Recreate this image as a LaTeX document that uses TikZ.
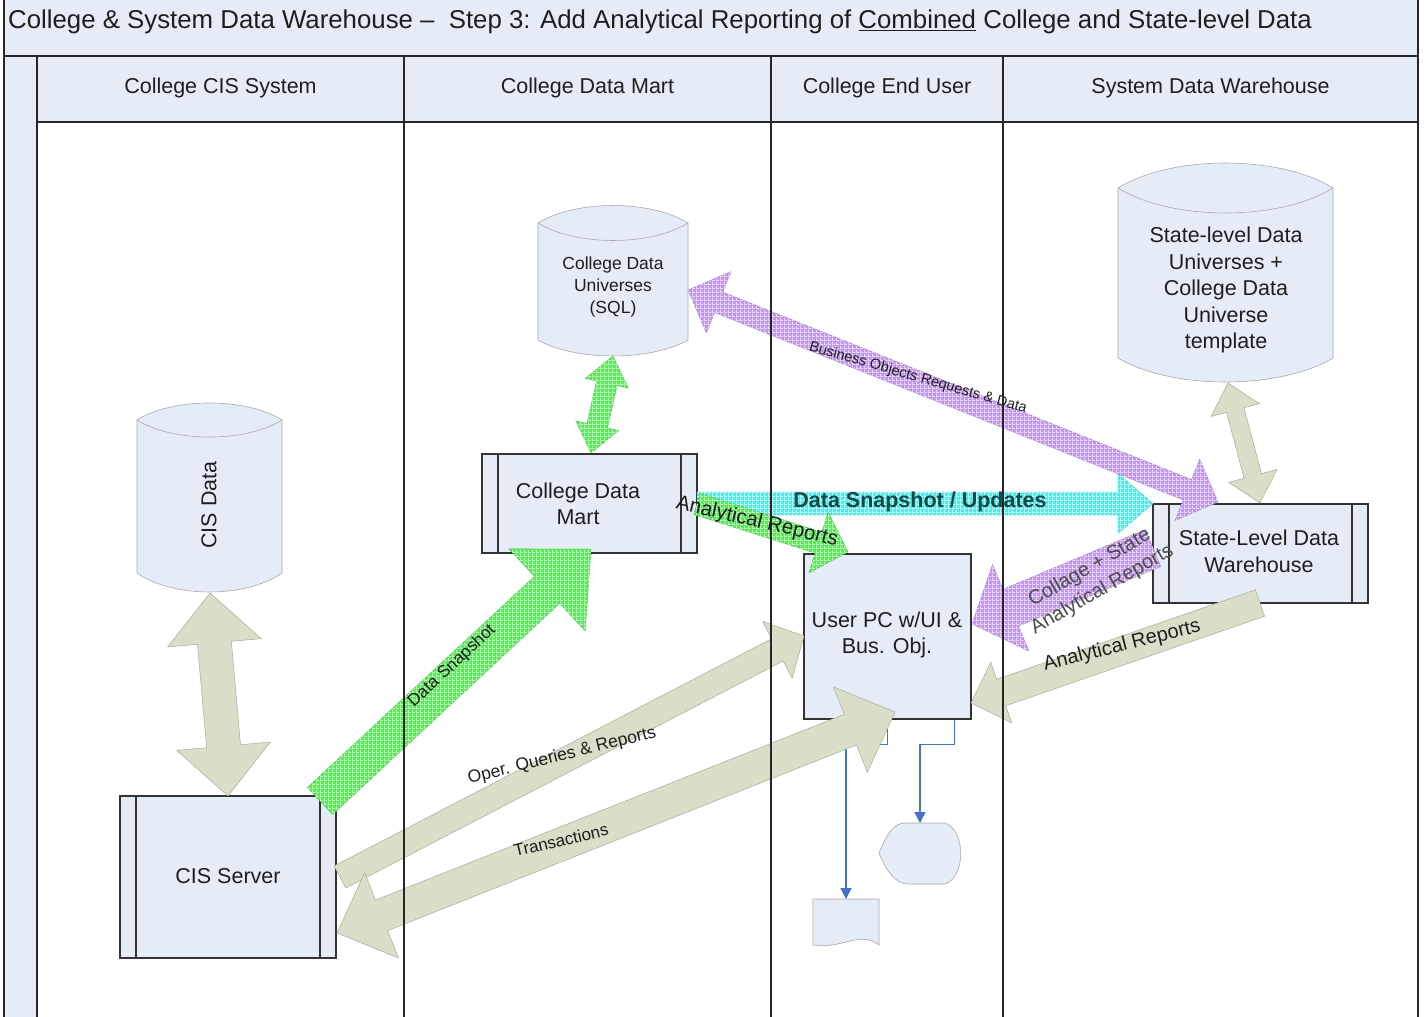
\documentclass[tikz,border=0pt]{standalone}
\usepackage{fontspec}
\setmainfont{Liberation Sans}
\usetikzlibrary{calc,arrows.meta,patterns}

\definecolor{paleblue}{HTML}{E6ECF7}
\definecolor{khaki}{HTML}{DADDC8}
\definecolor{khakiline}{HTML}{A9AC98}
\definecolor{gbase}{HTML}{55EE55}
\definecolor{gline}{HTML}{B8F8B8}
\definecolor{cbase}{HTML}{44F0F0}
\definecolor{cline}{HTML}{C0FAFA}
\definecolor{pbase}{HTML}{C597F2}
\definecolor{pline}{HTML}{E8D6FB}
\definecolor{ink}{HTML}{1E1E1E}
\definecolor{snaptxt}{HTML}{0F4A4A}
\definecolor{connblue}{HTML}{4472C4}
\definecolor{shapeline}{HTML}{A8A8A8}

\pgfdeclarepatternformonly{cellgrid}{\pgfqpoint{0pt}{0pt}}{\pgfqpoint{4pt}{4pt}}{\pgfqpoint{4pt}{4pt}}{%
  \pgfsetlinewidth{0.9pt}%
  \pgfpathmoveto{\pgfqpoint{0pt}{0.5pt}}\pgfpathlineto{\pgfqpoint{4pt}{0.5pt}}%
  \pgfpathmoveto{\pgfqpoint{0.5pt}{0pt}}\pgfpathlineto{\pgfqpoint{0.5pt}{4pt}}%
  \pgfusepath{stroke}}

% single-headed block arrow: style, tail, tip, half shaft, half head, head length
\newcommand\onearrow[6]{%
  \coordinate (oa-n) at ($(#3)!#6pt!(#2)$);
  \path[#1] ($(#2)!#4pt!90:(#3)$) -- ($(oa-n)!#4pt!90:(#3)$) -- ($(oa-n)!#5pt!90:(#3)$) -- (#3)
    -- ($(oa-n)!#5pt!-90:(#3)$) -- ($(oa-n)!#4pt!-90:(#3)$) -- ($(#2)!#4pt!-90:(#3)$) -- cycle;}
% double-headed block arrow
\newcommand\twoarrow[6]{%
  \coordinate (ta-m) at ($(#2)!#6pt!(#3)$);
  \coordinate (ta-n) at ($(#3)!#6pt!(#2)$);
  \path[#1] (#2) -- ($(ta-m)!#5pt!90:(#3)$) -- ($(ta-m)!#4pt!90:(#3)$) -- ($(ta-n)!#4pt!90:(#3)$)
    -- ($(ta-n)!#5pt!90:(#3)$) -- (#3) -- ($(ta-n)!#5pt!-90:(#3)$) -- ($(ta-n)!#4pt!-90:(#3)$)
    -- ($(ta-m)!#4pt!-90:(#3)$) -- ($(ta-m)!#5pt!-90:(#3)$) -- cycle;}

\tikzset{
  lane/.style={draw=black!85, line width=1.3pt},
  boxtext/.style={font=\fontsize{21.5}{26.5}\selectfont, text=ink, align=center},
  procbox/.style={rectangle, draw=black!80, line width=1.3pt, fill=paleblue, inner sep=0pt,
    path picture={\draw[black!80, line width=1.2pt]
      ([xshift=16pt]path picture bounding box.north west) -- ([xshift=16pt]path picture bounding box.south west)
      ([xshift=-16pt]path picture bounding box.north east) -- ([xshift=-16pt]path picture bounding box.south east);}},
  dbshape/.style={fill=paleblue, draw=shapeline, line width=0.6pt},
  conn/.style={draw=connblue, line width=1.4pt, -{Triangle[length=11pt,width=11pt]}},
  khakiarrow/.style={fill=khaki, draw=khakiline, line width=0.5pt},
  greenarrow/.style={fill=gbase, draw=gbase!75!black, line width=0.3pt, postaction={pattern=cellgrid, pattern color=gline}},
  cyanarrow/.style={fill=cbase, draw=cbase!75!black, line width=0.3pt, postaction={pattern=cellgrid, pattern color=cline}},
  purplearrow/.style={fill=pbase, draw=pbase!75!black, line width=0.3pt, postaction={pattern=cellgrid, pattern color=pline}},
  lbl/.style={text=ink, inner sep=0pt, align=center}
}

\begin{document}
\begin{tikzpicture}[x=1pt, y=-1pt]
\path[use as bounding box] (0,0) rectangle (1424,1017);
\fill[white] (0,0) rectangle (1424,1017);

% ---- pool background ----
\fill[paleblue] (4,0) rectangle (1418,56);
\fill[paleblue] (37,56) rectangle (1418,122);
\fill[paleblue] (4,56) rectangle (37,1017);
\draw[lane] (4,0) -- (4,1017);
\draw[lane] (1418,0) -- (1418,1017);
\draw[lane] (4,56) -- (1418,56);
\draw[lane] (37,122) -- (1418,122);

\node[anchor=west, inner sep=0pt, text=ink, font=\fontsize{25.8}{30}\selectfont] (title) at (8,22)
  {College \& System Data Warehouse –\ \ Step 3: Add Analytical Reporting of \underline{Combined} College and State-level Data};
\node[boxtext] (h1) at (220.5,88) {College CIS System};
\node[boxtext] (h2) at (587.5,88) {College Data Mart};
\node[boxtext] (h3) at (887,88) {College End User};
\node[boxtext] (h4) at (1210.5,88) {System Data Warehouse};

% ---- data stores ----
\path[dbshape] (137,420) .. controls (173,397.3) and (246,397.3) .. (282,420) -- (282,573)
  .. controls (246,598.3) and (173,598.3) .. (137,573) -- cycle;
\draw[shapeline, line width=0.6pt] (137,420) .. controls (173,442.7) and (246,442.7) .. (282,420);
\node[boxtext, rotate=90] (cisdata) at (209,505) {CIS Data};

\path[dbshape] (538,223) .. controls (575.5,199.7) and (650.5,199.7) .. (688,223) -- (688,340)
  .. controls (650.5,361.3) and (575.5,361.3) .. (538,340) -- cycle;
\draw[shapeline, line width=0.6pt] (538,223) .. controls (575.5,246.3) and (650.5,246.3) .. (688,223);
\node[boxtext, font=\fontsize{17.5}{22}\selectfont] (univ) at (613,287) {College Data\\Universes\\(SQL)};

\path[dbshape] (1118,188) .. controls (1171.75,154.7) and (1279.25,154.7) .. (1333,188) -- (1333,358)
  .. controls (1279.25,390) and (1171.75,390) .. (1118,358) -- cycle;
\draw[shapeline, line width=0.6pt] (1118,188) .. controls (1171.75,221.3) and (1279.25,221.3) .. (1333,188);
\node[boxtext, font=\fontsize{21.5}{26.5}\selectfont] (stateuniv) at (1226,290)
  {State-level Data\\Universes +\\College Data\\Universe\\template};

% ---- output shapes ----
\path[dbshape] (813,899) -- (879,899) -- (879,945) .. controls (860,930) and (840,950) .. (813,945) -- cycle;
\coordinate (doc) at (846,899);
\path[dbshape] (879,853) .. controls (886,836) and (893,823) .. (905,823) -- (945,823)
  .. controls (966,830) and (966,877) .. (945,884) -- (908,884) .. controls (895,884) and (886,870) .. (879,853) -- cycle;
\coordinate (disp) at (920,823);

% ---- process boxes ----
\node[procbox, minimum width=216pt, minimum height=162pt] (cisserver) at (228,877) {};
\node[boxtext] (cisservertxt) at (228,876) {CIS Server};
\node[procbox, minimum width=215pt, minimum height=99pt] (mart) at (589.5,503.5) {};
\node[boxtext] (marttxt) at (578,504) {College Data\\Mart};
\node[procbox, minimum width=215pt, minimum height=99pt] (statedw) at (1260.5,553.5) {};
\node[boxtext] (statedwtxt) at (1259,551.5) {State-Level Data\\Warehouse};
\node[rectangle, draw=black!80, line width=1.3pt, fill=paleblue, minimum width=167pt, minimum height=165pt, inner sep=0pt] (userpc) at (887.5,636.5) {};
\node[boxtext] (userpctxt) at (887,635) {User PC w/UI \&\\Bus. Obj.};

% ---- blue connectors ----
\draw[conn] (userpc.south) -- ++(0,25) -| (doc);
\draw[conn] ([xshift=-17pt]userpc.south east) -- ++(0,25) -| (disp);

% ---- block arrow end points ----
\coordinate (a1) at (210,593);  \coordinate (b1) at (228,796);
\coordinate (a2) at (613,356);  \coordinate (b2) at (591,453);
\coordinate (a3) at (320,801);  \coordinate (b3) at (591,549);
\coordinate (a4) at (340,877);  \coordinate (b4) at (804,636);
\coordinate (a5) at (337,933);  \coordinate (b5) at (895,712);
\coordinate (a6) at (697,504);  \coordinate (b6) at (848,552);
\coordinate (a7) at (697,503.5);\coordinate (b7) at (1153,503.5);
\coordinate (a8) at (688,290);  \coordinate (b8) at (1218,502);
\coordinate (a9) at (1153,548); \coordinate (b9) at (972,624);
\coordinate (a10) at (1260,603);\coordinate (b10) at (971,703);
\coordinate (a11) at (1228,383);\coordinate (b11) at (1260,503);

\twoarrow{khakiarrow}{a1}{b1}{17}{47}{50}
\twoarrow{greenarrow}{a2}{b2}{10.5}{22}{28}
\onearrow{greenarrow}{a3}{b3}{18.5}{56}{60}
\onearrow{khakiarrow}{a4}{b4}{12.5}{32}{30}
\twoarrow{khakiarrow}{a5}{b5}{16.5}{46}{48}
\onearrow{cyanarrow}{a7}{b7}{11.5}{30}{35}
\onearrow{greenarrow}{a6}{b6}{11}{32}{31}
\twoarrow{purplearrow}{a8}{b8}{11}{33}{33}
\onearrow{purplearrow}{a9}{b9}{20}{47}{42}
\onearrow{khakiarrow}{a10}{b10}{14}{32}{32}
\twoarrow{khakiarrow}{a11}{b11}{9}{25}{28}

% ---- lane dividers ----
\draw[lane] (37,56) -- (37,1017);
\draw[lane] (404,56) -- (404,1017);
\draw[lane] (771,56) -- (771,1017);
\draw[lane] (1003,56) -- (1003,1017);

% ---- arrow labels ----
\node[lbl, rotate=43, font=\fontsize{17}{20}\selectfont] (lsnap) at (452,666) {Data Snapshot};
\node[lbl, rotate=14, font=\fontsize{17.5}{21}\selectfont] (loper) at (562,756) {Oper. Queries \& Reports};
\node[lbl, rotate=13, font=\fontsize{17}{20}\selectfont] (ltrans) at (561,840) {Transactions};
\node[lbl, font=\bfseries\fontsize{21.5}{26}\selectfont, text=snaptxt] (lupd) at (920,502) {Data Snapshot / Updates};
\node[lbl, rotate=-13, font=\fontsize{20.5}{24}\selectfont] (lanag) at (757,522) {Analytical Reports};
\node[lbl, rotate=-16, font=\fontsize{14.5}{17}\selectfont] (lbo) at (918,378) {Business Objects Requests \& Data};
\node[lbl, rotate=30, font=\fontsize{20}{25}\selectfont, text=black!70] (lcoll) at (1096,579) {Collage + State\\Analytical Reports};
\node[lbl, rotate=14, font=\fontsize{20}{24}\selectfont] (lanak) at (1122,646) {Analytical Reports};
\end{tikzpicture}
\end{document}
